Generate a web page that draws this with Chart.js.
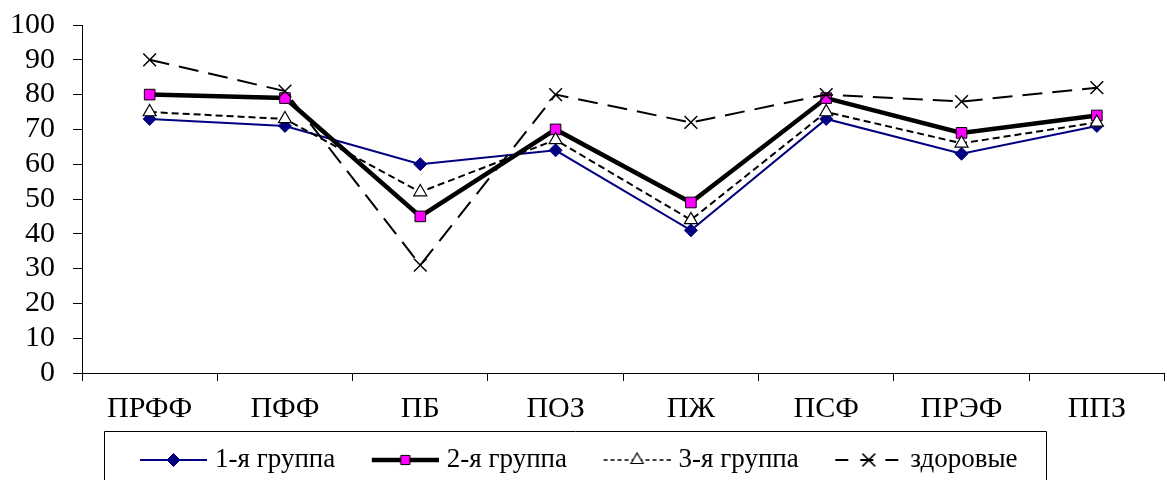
<!DOCTYPE html>
<html>
<head>
<meta charset="utf-8">
<script src="https://cdn.jsdelivr.net/npm/chart.js@4"></script>
<style>
  html, body { margin:0; padding:0; overflow:hidden; background:#fff; }
  #caja { width:1175px; height:480px; position:relative; }
</style>
</head>
<body>
<div id="caja"><canvas id="grafico"></canvas></div>
<script>
const categorias = ['ПРФФ','ПФФ','ПБ','ПОЗ','ПЖ','ПСФ','ПРЭФ','ППЗ'];
const grupo1   = [73, 71, 60, 64, 41, 73, 63, 71];
const grupo2   = [80, 79, 45, 70, 49, 79, 69, 74];
const grupo3   = [75, 73, 52, 67, 44, 75, 66, 72];
const sanos    = [90, 81, 31, 80, 72, 80, 78, 82];
const nombres  = ['1-я группа','2-я группа','3-я группа','здоровые'];
const ticksY   = {min:0, max:100, paso:10};

const FUENTE = "'Liberation Serif','Times New Roman',serif";

// icono de leyenda: linea + marcador (la parte visible empieza en LT)
const PAD_LEY = 17, LT = 25, ICON_W = 92, ICON_H = 24, BOX_W = 81;

function icono(color, ancho, dash, estilo, radio, relleno, borde, bw){
  const c = document.createElement('canvas');
  c.width = ICON_W; c.height = ICON_H;
  const g = c.getContext('2d');
  const cy = ICON_H/2, cx = LT + 33.5;
  g.strokeStyle = color; g.lineWidth = ancho; g.setLineDash(dash);
  g.beginPath(); g.moveTo(LT, cy); g.lineTo(ICON_W, cy); g.stroke();
  g.setLineDash([]);
  g.fillStyle = relleno; g.strokeStyle = borde; g.lineWidth = bw;
  Chart.helpers.drawPoint(g, {pointStyle: estilo, radius: radio, rotation: 0, borderWidth: bw}, cx, cy);
  return c;
}

const iconos = [
  icono('#000080', 2, [], 'rectRot', 6.5, '#000080', '#000080', 1),
  icono('#000', 4.5, [], 'rect', 6.5, '#ff00ff', '#000', 1),
  icono('#000', 1.5, [4,3], 'triangle', 7, '#fff', '#000', 1.2),
  icono('#000', 2, [13,12], 'crossRot', 9, '#000', '#000', 1.5)
];

const ajusteLeyenda = {
  id: 'ajusteLeyenda',
  afterLayout(chart){
    const lg = chart.legend;
    const p = lg.options.labels.padding;
    const x0 = (lg.left + p + lg.right - lg.lineWidths[0]) / 2;
    const inicio = x0 - (ICON_W - BOX_W)/2 + LT;
    const dx = 140 - inicio;
    lg.left += dx; lg.right += dx;
    lg.top -= 7.5; lg.bottom -= 7.5;
  },
  afterDraw(chart){
    const hb = chart.legend.legendHitBoxes;
    if(!hb || !hb.length) return;
    const ctx = chart.ctx;
    const x1 = Math.round(hb[0].left - (ICON_W - BOX_W)/2 + LT - 36) + 0.5;
    const u = hb[hb.length-1];
    const x2 = Math.round(u.left + u.width + 28) + 0.5;
    const y1 = Math.round(hb[0].top + 13.5 - 29) + 0.5;
    ctx.save();
    ctx.strokeStyle = '#000'; ctx.lineWidth = 1;
    ctx.beginPath();
    ctx.moveTo(x1, 490); ctx.lineTo(x1, y1); ctx.lineTo(x2, y1); ctx.lineTo(x2, 490);
    ctx.stroke();
    ctx.restore();
  }
};

const ctx = document.getElementById('grafico');

new Chart(ctx, {
  type: 'line',
  data: {
    labels: categorias,
    datasets: [
      {label: nombres[0], data: grupo1, order: 3,
       borderColor:'#000080', borderWidth:2,
       pointStyle:'rectRot', pointRadius:6.5, pointBackgroundColor:'#000080', pointBorderColor:'#000080', pointBorderWidth:1},
      {label: nombres[1], data: grupo2, order: 2,
       borderColor:'#000', borderWidth:4.5,
       pointStyle:'rect', pointRadius:7.5, pointBackgroundColor:'#ff00ff', pointBorderColor:'#000', pointBorderWidth:1},
      {label: nombres[2], data: grupo3, order: 1,
       borderColor:'#000', borderWidth:2, borderDash:[7,4],
       pointStyle:'triangle', pointRadius:7.5, pointBackgroundColor:'#fff', pointBorderColor:'#000', pointBorderWidth:1.2},
      {label: nombres[3], data: sanos, order: 0,
       borderColor:'#000', borderWidth:2, borderDash:[20,10],
       pointStyle:'crossRot', pointRadius:9, pointBackgroundColor:'#000', pointBorderColor:'#000', pointBorderWidth:1.5}
    ]
  },
  options: {
    responsive: true,
    maintainAspectRatio: false,
    animation: false,
    layout: {padding: {left:0, right:1, top:25, bottom:-11}},
    elements: {line: {tension:0, fill:false}},
    scales: {
      x: {
        offset: true,
        grid: {offset:true, drawOnChartArea:false, tickLength:8, color:'#000'},
        border: {color:'#000', width:1},
        ticks: {color:'#000', padding:10, maxRotation:0, autoSkip:false, font:{family:FUENTE, size:30}}
      },
      y: {
        min: ticksY.min, max: ticksY.max,
        afterFit(s){ s.width = 82; s.paddingTop = 0; s.paddingBottom = 0; },
        grid: {drawOnChartArea:false, tickLength:9, color:'#000'},
        border: {color:'#000', width:1},
        ticks: {stepSize: ticksY.paso, autoSkip:false, color:'#000', padding:18, font:{family:FUENTE, size:30}}
      }
    },
    plugins: {
      tooltip: {enabled:false},
      legend: {
        position: 'bottom',
        labels: {
          usePointStyle: true,
          pointStyleWidth: BOX_W,
          padding: PAD_LEY,
          color: '#000',
          font: {family:FUENTE, size:27},
          sort: (a, b) => a.datasetIndex - b.datasetIndex,
          generateLabels(chart){
            const base = Chart.defaults.plugins.legend.labels.generateLabels(chart);
            return base.map(it => Object.assign(it, {pointStyle: iconos[it.datasetIndex]}));
          }
        }
      }
    }
  },
  plugins: [ajusteLeyenda]
});
</script>
</body>
</html>
